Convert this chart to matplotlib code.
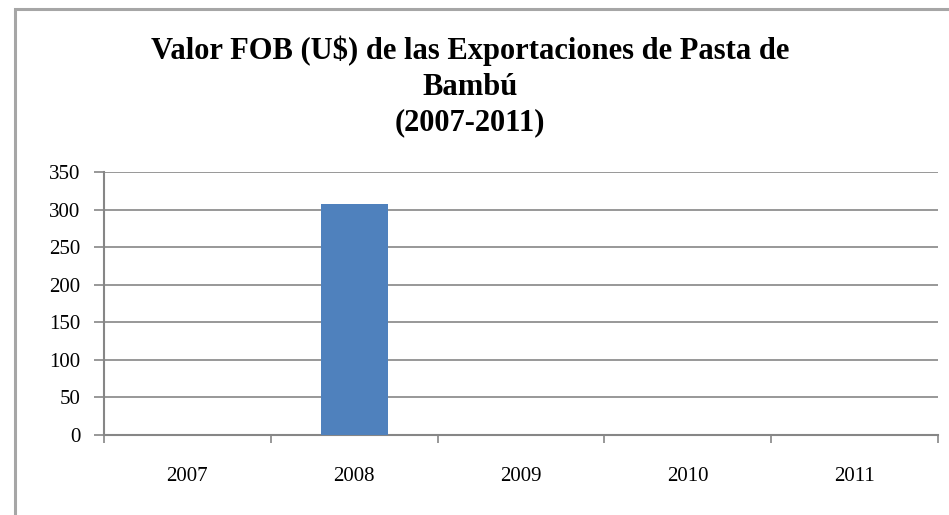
import matplotlib.pyplot as plt
from matplotlib.patches import Rectangle

years = ['2007', '2008', '2009', '2010', '2011']
fob_values = [0, 308, 0, 0, 0]
y_ticks = [0, 50, 100, 150, 200, 250, 300, 350]

plt.rcParams['font.family'] = ['Liberation Serif', 'DejaVu Serif']

fig = plt.figure(figsize=(9.49, 5.15), dpi=100)
ax = fig.add_axes([0.1096, 0.1553, 0.8788, 0.5107])

x = list(range(len(years)))
ax.bar(x, fob_values, width=0.4, color='#4f81bd', zorder=3)

ax.set_xlim(-0.5, len(years) - 0.5)
ax.set_ylim(0, 350)
ax.set_yticks(y_ticks)
ax.set_yticklabels([str(v) for v in y_ticks], fontsize=15)
ax.yaxis.grid(True, color='#868686', linewidth=1.2, zorder=0)

ax.set_xticks(x)
ax.set_xticklabels(years, fontsize=15)
ax.set_xticks([i - 0.5 for i in range(len(years) + 1)], minor=True)
ax.tick_params(axis='x', which='major', length=0, pad=23)
ax.tick_params(axis='x', which='minor', length=6, width=1.2, color='#868686')
ax.tick_params(axis='y', length=7, width=1.2, color='#868686', pad=10)

for side in ['top', 'right']:
    ax.spines[side].set_visible(False)
for side in ['left', 'bottom']:
    ax.spines[side].set_color('#868686')
    ax.spines[side].set_linewidth(1.5)

fig.text(0.495, 0.932,
         'Valor FOB (U$) de las Exportaciones de Pasta de\nBambú\n(2007-2011)',
         ha='center', va='top', fontsize=22, fontweight='bold', linespacing=1.32)

# chart area frame (cropped on right and bottom)
fig.patches.append(Rectangle((14.5 / 949, -0.2), 1.2, 1.2 - 8.5 / 515,
                             transform=fig.transFigure, fill=False,
                             edgecolor='#a6a6a6', linewidth=2.2))

plt.savefig('out.png', dpi=100)
